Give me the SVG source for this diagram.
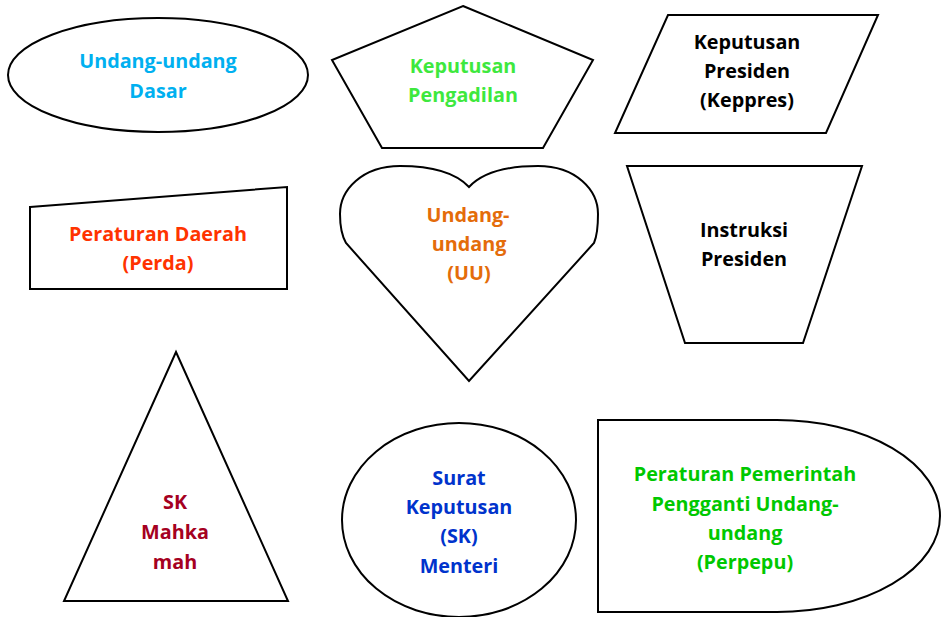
<svg xmlns="http://www.w3.org/2000/svg" width="943" height="617" viewBox="0 0 943 617">
<style>
.s{fill:#fff;stroke:#000;stroke-width:2;stroke-linejoin:miter}
text{font-family:"Open Sans","Liberation Sans",sans-serif;font-weight:700;font-size:19.8px;text-anchor:middle}
</style>
<rect width="943" height="617" fill="#fff"/>
<g id="uud">
<ellipse class="s" cx="158" cy="75" rx="150" ry="57"/>
<text fill="#00B0F0"><tspan x="158" y="68">Undang-undang</tspan><tspan x="158" y="98">Dasar</tspan></text>
</g>
<g id="pengadilan">
<polygon class="s" points="463,6 593,60 543,148 382,148 332,60"/>
<text fill="#3EE83E"><tspan x="463" y="73">Keputusan</tspan><tspan x="463" y="102">Pengadilan</tspan></text>
</g>
<g id="keppres">
<polygon class="s" points="668,15 878,15 826,133 615,133"/>
<text fill="#000"><tspan x="747" y="49">Keputusan</tspan><tspan x="747" y="78">Presiden</tspan><tspan x="747" y="107">(Keppres)</tspan></text>
</g>
<g id="perda">
<polygon class="s" points="30,207 287,187 287,289 30,289"/>
<text fill="#FF3300"><tspan x="158" y="241">Peraturan Daerah</tspan><tspan x="158" y="270">(Perda)</tspan></text>
</g>
<g id="uu">
<path class="s" d="M469,187 C455,172 430,166 400,166 C362,166 340,190 340,214 C340,228 342,236 346,243 L469,381 L594,243 C597,236 598,228 598,214 C598,190 576,166 538,166 C508,166 483,172 469,187 Z"/>
<text fill="#E46C0A"><tspan x="468" y="222">Undang-</tspan><tspan x="469" y="251">undang</tspan><tspan x="469" y="280">(UU)</tspan></text>
</g>
<g id="inpres">
<polygon class="s" points="627,166 862,166 803,343 685,343"/>
<text fill="#000"><tspan x="744" y="237">Instruksi</tspan><tspan x="744" y="266">Presiden</tspan></text>
</g>
<g id="skma">
<polygon class="s" points="176,352 288,601 64,601"/>
<text fill="#A50021"><tspan x="175" y="509">SK</tspan><tspan x="175" y="539">Mahka</tspan><tspan x="175" y="569">mah</tspan></text>
</g>
<g id="skmenteri">
<ellipse class="s" cx="459" cy="520" rx="117" ry="97"/>
<text fill="#0033CC"><tspan x="459" y="485">Surat</tspan><tspan x="459" y="514">Keputusan</tspan><tspan x="459" y="543">(SK)</tspan><tspan x="459" y="573">Menteri</tspan></text>
</g>
<g id="perpepu">
<path class="s" d="M598,420 H777 A163,96 0 0 1 777,612 H598 Z"/>
<text fill="#00C800"><tspan x="745" y="481">Peraturan Pemerintah</tspan><tspan x="745" y="511">Pengganti Undang-</tspan><tspan x="745" y="540">undang</tspan><tspan x="745" y="569">(Perpepu)</tspan></text>
</g>
<g id="connectors"></g>
</svg>
